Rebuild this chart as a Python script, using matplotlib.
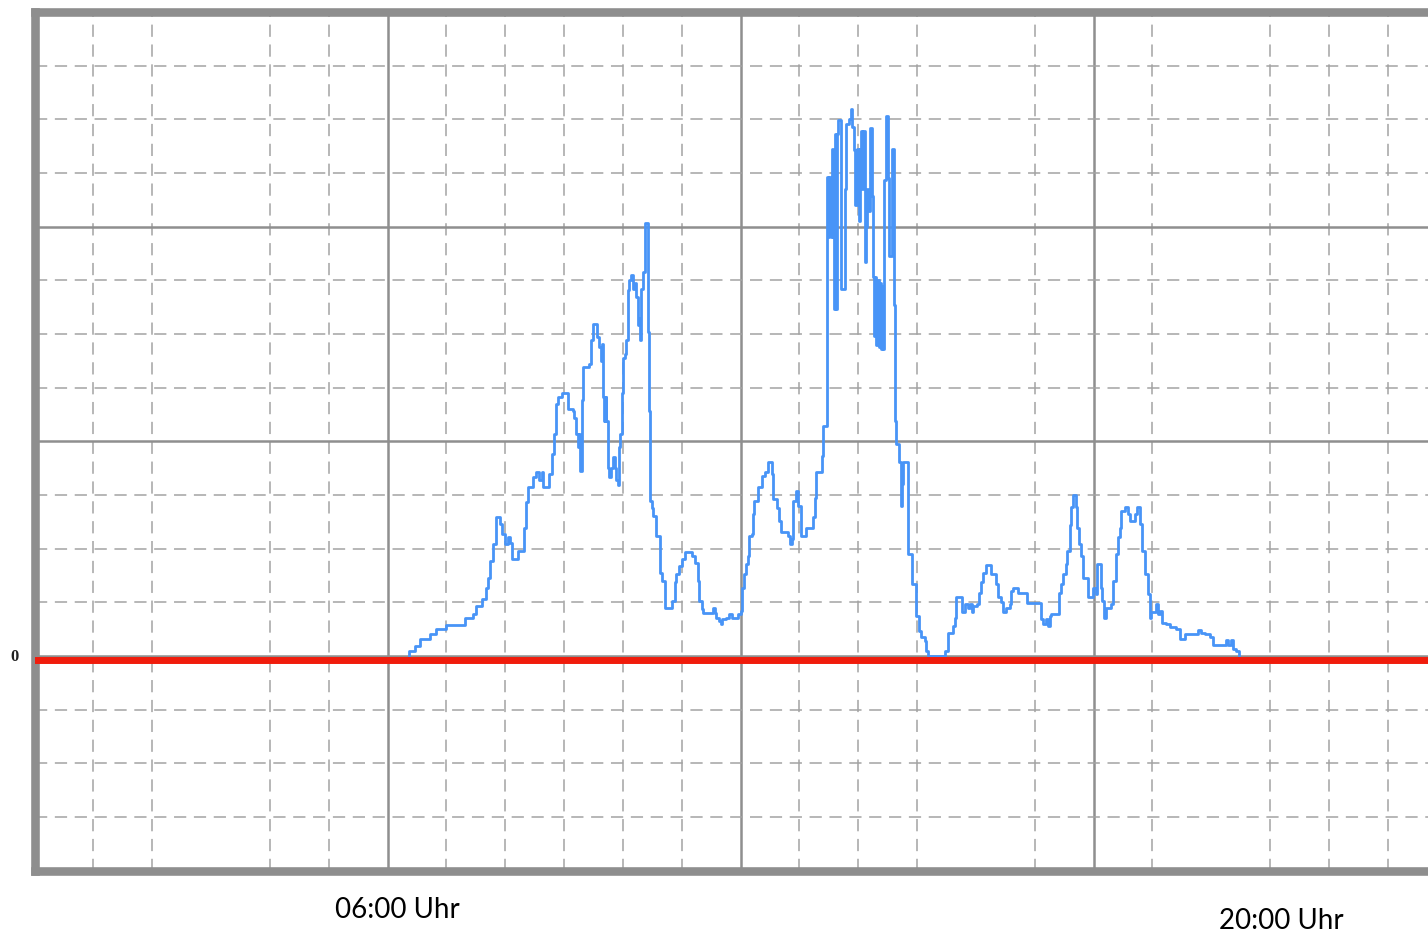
#!/usr/bin/env python3
''' Tagesverlauf Leistung, Nachbau der Grafik
'''

import matplotlib
matplotlib.use('Agg')
from matplotlib import pyplot

#
# data
#

# time of day in hours, value in grid units (one dashed line = 1)
hours = [
    6.36, 6.37, 6.46, 6.55, 6.72, 6.83, 6.99, 7.31, 7.46,
    7.51, 7.60, 7.68, 7.70, 7.74, 7.80, 7.85, 7.91, 7.94, 7.99,
    8.04, 8.08, 8.12, 8.22, 8.32, 8.35, 8.39, 8.48, 8.53, 8.58,
    8.62, 8.65, 8.70, 8.74, 8.80, 8.83, 8.86, 8.90, 8.96, 9.06,
    9.15, 9.17, 9.20, 9.23, 9.25, 9.28, 9.30, 9.31, 9.33, 9.43,
    9.46, 9.49, 9.56, 9.60, 9.63, 9.65, 9.67, 9.68, 9.69, 9.70,
    9.71, 9.72, 9.74, 9.77, 9.80, 9.83, 9.86, 9.88, 9.91, 9.93,
    9.96, 9.98, 10.00, 10.03, 10.05, 10.08, 10.11, 10.14, 10.17, 10.20,
    10.22, 10.25, 10.28, 10.30, 10.31, 10.34, 10.38, 10.42, 10.45, 10.47,
    10.49, 10.52, 10.56, 10.63, 10.64, 10.67, 10.71, 10.81, 10.84, 10.88,
    10.91, 10.95, 11.00, 11.06, 11.14, 11.18, 11.23, 11.27, 11.30, 11.34,
    11.37, 11.51, 11.53, 11.56, 11.59, 11.64, 11.67, 11.69, 11.76, 11.80,
    11.85, 11.96, 12.01, 12.03, 12.06, 12.09, 12.12, 12.14, 12.19, 12.21,
    12.23, 12.30, 12.37, 12.42, 12.46, 12.53, 12.56, 12.62, 12.65, 12.69,
    12.81, 12.84, 12.87, 12.90, 12.94, 12.97, 13.03, 13.12, 13.24, 13.27,
    13.28, 13.39, 13.40, 13.46, 13.465, 13.47, 13.49, 13.51, 13.53, 13.55,
    13.56, 13.58, 13.59, 13.61, 13.62, 13.64, 13.66, 13.70, 13.77, 13.78,
    13.80, 13.84, 13.87, 13.90, 13.93, 13.95, 13.98, 14.01, 14.03, 14.05,
    14.07, 14.09, 14.11, 14.13, 14.15, 14.17, 14.20, 14.24, 14.25, 14.27,
    14.29, 14.31, 14.33, 14.35, 14.37, 14.39, 14.41, 14.42, 14.44, 14.47,
    14.50, 14.53, 14.57, 14.61, 14.63, 14.65, 14.70, 14.72, 14.74, 14.76,
    14.85, 14.92, 14.99, 15.03, 15.07, 15.13, 15.16, 15.19, 15.47, 15.53,
    15.61, 15.64, 15.67, 15.77, 15.81, 15.87, 15.90, 15.93, 15.96, 16.02,
    16.05, 16.09, 16.12, 16.18, 16.26, 16.35, 16.38, 16.43, 16.46, 16.52,
    16.58, 16.60, 16.63, 16.72, 16.87, 17.11, 17.14, 17.20, 17.23, 17.26,
    17.28, 17.41, 17.45, 17.49, 17.53, 17.55, 17.60, 17.62, 17.66, 17.70,
    17.72, 17.75, 17.79, 17.83, 17.91, 17.99, 18.04, 18.06, 18.12, 18.15,
    18.17, 18.22, 18.30, 18.33, 18.39, 18.42, 18.45, 18.47, 18.53, 18.59,
    18.62, 18.70, 18.74, 18.79, 18.83, 18.87, 18.93, 18.96, 18.98, 19.07,
    19.10, 19.13, 19.17, 19.24, 19.30, 19.41, 19.47, 19.55, 19.78, 19.83,
    19.89, 19.98, 20.03, 20.25, 20.28, 20.34, 20.37, 20.43, 20.47,
]
power = [
    0.00, 0.09, 0.19, 0.31, 0.40, 0.50, 0.57, 0.70, 0.78,
    0.93, 1.06, 1.27, 1.46, 1.77, 2.08, 2.58, 2.46, 2.27, 2.08,
    2.21, 2.11, 1.80, 1.96, 2.39, 2.86, 3.14, 3.33, 3.42, 3.27,
    3.42, 3.14, 3.14, 3.39, 3.76, 4.14, 4.70, 4.82, 4.89, 4.60,
    4.57, 4.44, 4.14, 3.89, 4.14, 3.45, 4.20, 4.76, 5.38, 5.44,
    5.88, 6.19, 5.94, 5.75, 5.50, 5.81, 4.82, 4.38, 4.82, 4.38,
    4.82, 4.38, 3.51, 3.33, 3.51, 3.70, 3.51, 3.27, 3.18, 3.89,
    4.14, 4.89, 5.56, 5.63, 5.88, 6.81, 7.00, 7.09, 6.84, 6.95,
    6.68, 6.16, 6.30, 5.88, 6.84, 7.15, 8.06, 6.03, 4.57, 2.89,
    2.75, 2.60, 2.24, 2.18, 1.55, 1.40, 0.90, 0.90, 1.02, 1.37,
    1.52, 1.68, 1.80, 1.94, 1.94, 1.87, 1.74, 1.40, 1.02, 0.87,
    0.79, 0.79, 0.90, 0.80, 0.71, 0.65, 0.59, 0.68, 0.70, 0.78,
    0.70, 0.78, 0.84, 1.27, 1.52, 1.71, 1.87, 2.24, 2.27, 2.64,
    2.88, 3.15, 3.36, 3.42, 3.61, 3.39, 2.92, 2.76, 2.52, 2.30,
    2.24, 2.08, 2.18, 2.89, 3.08, 2.80, 2.24, 2.39, 2.58, 2.95,
    3.42, 3.73, 4.29, 4.29, 7.96, 8.92, 7.80, 8.92, 7.80, 8.90,
    9.45, 7.80, 6.46, 9.73, 6.46, 9.73, 9.98, 6.84, 6.84, 8.70,
    9.92, 10.00, 10.20, 9.86, 9.42, 8.40, 9.45, 8.11, 9.45, 9.79,
    8.70, 9.79, 7.34, 8.00, 8.70, 8.30, 9.83, 8.58, 7.06, 5.97,
    7.06, 5.80, 7.00, 5.75, 6.95, 5.72, 6.90, 5.72, 8.86, 10.07,
    8.90, 7.46, 9.45, 6.53, 4.38, 3.95, 3.61, 2.80, 3.20, 3.61,
    1.90, 1.34, 0.75, 0.47, 0.35, 0.28, 0.09, 0.00, 0.09, 0.43,
    0.56, 0.71, 1.09, 0.81, 0.96, 0.90, 0.96, 0.81, 0.93, 0.96,
    1.18, 1.37, 1.55, 1.70, 1.52, 1.34, 1.09, 1.00, 0.81, 0.90,
    0.96, 1.21, 1.27, 1.18, 0.98, 0.68, 0.59, 0.68, 0.56, 0.74,
    0.78, 1.18, 1.34, 1.52, 1.71, 1.96, 2.43, 2.77, 2.99, 2.77,
    2.39, 2.08, 1.86, 1.46, 1.09, 1.27, 1.15, 1.71, 1.27, 1.03,
    0.71, 0.90, 0.96, 1.40, 1.90, 2.21, 2.39, 2.70, 2.77, 2.64,
    2.52, 2.64, 2.77, 2.46, 1.96, 1.52, 1.15, 0.71, 0.81, 0.96,
    0.78, 0.84, 0.62, 0.59, 0.53, 0.50, 0.31, 0.40, 0.48, 0.43,
    0.40, 0.35, 0.21, 0.30, 0.21, 0.30, 0.12, 0.09, 0.00,
]

# red reference line
baseline = -0.08

# axis labels below the plot
time_labels = ['06:00 Uhr', '20:00 Uhr']
zero_label = '0'

# grid: solid every 6 h / 4 units, dashed in between (some hours have none)
major_x = [0, 6, 12, 18, 24]
minor_x = [1, 2, 4, 5, 7, 8, 9, 10, 11, 13, 14, 15, 17, 19, 21, 22, 23]
major_y = [-4, 0, 4, 8, 12]
minor_y = [-3, -2, -1, 1, 2, 3, 5, 6, 7, 9, 10, 11]

#
# plot
#

W, H = 1428, 934
fig = pyplot.figure(figsize=(W / 100, H / 100), dpi=100)
ax = fig.add_axes([34.5 / W, 63.5 / H, 1412 / W, 858.5 / H])

ax.set_xlim(0, 24)
ax.set_ylim(-4, 12)
ax.set_xticks(major_x)
ax.set_xticks(minor_x, minor=True)
ax.set_yticks(major_y)
ax.set_yticks(minor_y, minor=True)
ax.tick_params(which='both', length=0, labelbottom=False, labelleft=False)
ax.set_axisbelow(True)
ax.grid(which='major', color='#8f8f8f', lw=1.8, ls='-')
ax.grid(which='minor', color='#a3a3a3', lw=1.1, ls=(0, (8, 5)))

for s in ax.spines.values():
    s.set_color('#8e8e8e')
    s.set_linewidth(6.2)

ax.plot(hours, power, drawstyle='steps-post', color='#4894f7', lw=2.0,
    zorder=3)
ax.axhline(baseline, color='#f01c0c', lw=5, zorder=4)

# texts in pixel positions of the figure
def px(x, y):
    return x / W, 1 - y / H

fig.text(*px(397, 918), time_labels[0], family='Lato', fontsize=20,
    ha='center', va='baseline', color='black')
fig.text(*px(1281, 929), time_labels[1], family='Lato', fontsize=20,
    ha='center', va='baseline', color='black')
fig.text(*px(14.5, 657), zero_label, family='Liberation Serif',
    weight='bold', fontsize=12, ha='center', va='center', color='#222222')

fig.savefig('out.png', dpi=100)
